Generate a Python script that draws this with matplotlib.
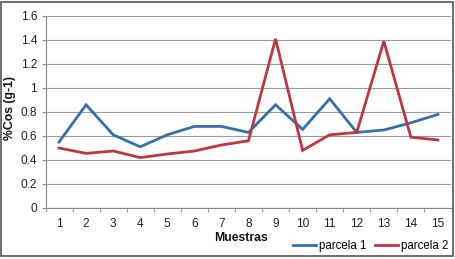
import matplotlib
matplotlib.use("Agg")
import matplotlib.pyplot as plt
from matplotlib.patches import Rectangle

plt.rcParams['font.family'] = ['Liberation Sans', 'DejaVu Sans']

muestras = list(range(1, 16))
parcela1 = [0.55, 0.86, 0.61, 0.51, 0.61, 0.68, 0.68, 0.63, 0.86, 0.655, 0.91, 0.63, 0.65, 0.71, 0.78]
parcela2 = [0.50, 0.455, 0.475, 0.42, 0.45, 0.475, 0.525, 0.56, 1.41, 0.48, 0.61, 0.63, 1.39, 0.59, 0.567]
yticks = [0, 0.2, 0.4, 0.6, 0.8, 1, 1.2, 1.4, 1.6]
ytick_labels = ['0', '0.2', '0.4', '0.6', '0.8', '1', '1.2', '1.4', '1.6']

W, H = 456, 259
fig = plt.figure(figsize=(W / 100, H / 100), dpi=100)
ax = fig.add_axes([45.5 / W, 1 - 208 / H, (451.5 - 45.5) / W, (208 - 16) / H])

blue = '#3570AC'
red = '#C0363F'
l1, = ax.plot(muestras, parcela1, color=blue, lw=2.0, solid_joinstyle='miter', label='parcela 1')
l2, = ax.plot(muestras, parcela2, color=red, lw=2.0, solid_joinstyle='miter', label='parcela 2')

fs = 8.6
ax.set_xlim(0.5, 15.5)
ax.set_ylim(0, 1.6)
ax.set_yticks(yticks)
ax.set_yticklabels(ytick_labels)
ax.set_xticks(muestras)
ax.set_xticks([i + 0.5 for i in range(0, 16)], minor=True)
ax.tick_params(axis='x', which='major', length=0, labelsize=fs, pad=7, labelcolor='#222222')
ax.tick_params(axis='x', which='minor', length=3, color='#888888', direction='out')
ax.tick_params(axis='y', which='major', length=3, color='#888888', labelsize=fs, pad=3, labelcolor='#222222')
ax.grid(axis='y', color='#9a9a9a', lw=0.8)
ax.set_axisbelow(True)
for s in ['top', 'right']:
    ax.spines[s].set_visible(False)
ax.spines['left'].set_color('#888888')
ax.spines['bottom'].set_color('#888888')

fig.text(10 / W, 1 - 108 / H, '%Cos (g-1)', rotation=90, ha='center', va='center',
         fontsize=8.8, fontweight='bold', color='#111111')
fig.text(241.5 / W, 1 - 238 / H, 'Muestras', ha='center', va='center',
         fontsize=8.8, fontweight='bold', color='#111111')

leg = fig.legend(handles=[l1, l2], loc='center left', bbox_to_anchor=(293 / W, 1 - 246 / H),
                 ncol=2, frameon=False, fontsize=8.3, handlelength=2.0, handletextpad=0.25,
                 columnspacing=0.75, borderpad=0, borderaxespad=0)

fig.patches.append(Rectangle((1 / W, 3 / H), (W - 4) / W, (H - 5) / H, transform=fig.transFigure,
                             fill=False, edgecolor='#555555', lw=1.2))

fig.savefig('out.png', dpi=100)
